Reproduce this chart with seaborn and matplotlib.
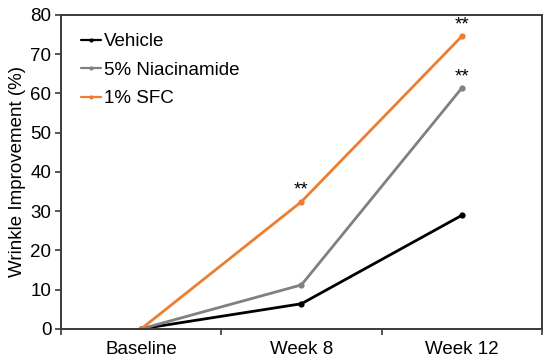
import seaborn as sns
import matplotlib.pyplot as plt
import pandas as pd

# data
timepoints = ["Baseline", "Week 8", "Week 12"]
vehicle = [0, 6.4, 28.9]
niacinamide = [0, 11.2, 61.3]
sfc = [0, 32.4, 74.5]
groups = ["Vehicle", "5% Niacinamide", "1% SFC"]
colors = ["#000000", "#808080", "#ED7D31"]

df = pd.DataFrame({
    "time": timepoints * 3,
    "x": [0, 1, 2] * 3,
    "value": vehicle + niacinamide + sfc,
    "group": [g for g in groups for _ in timepoints],
})

sns.set_style("white")
plt.rcParams['font.family'] = ['Liberation Sans', 'DejaVu Sans']
plt.rcParams['text.color'] = 'black'
plt.rcParams['axes.labelcolor'] = 'black'
plt.rcParams['xtick.labelcolor'] = 'black'
plt.rcParams['ytick.labelcolor'] = 'black'

fig = plt.figure(figsize=(5.5, 3.63), dpi=100)
ax = fig.add_axes([0.111, 0.094, 0.874, 0.865])

sns.lineplot(data=df, x="x", y="value", hue="group", hue_order=groups,
             palette=colors, marker="o", markersize=4.5, markeredgewidth=0,
             linewidth=2, ax=ax)

# significance marks
for yvals, idx in [(sfc, 1), (sfc, 2), (niacinamide, 2)]:
    ax.text(idx, yvals[idx] + 0.8, "**", ha="center", va="bottom", fontsize=13.5)

ax.set_xlim(-0.5, 2.5)
ax.set_ylim(0, 80)
ax.set_yticks(range(0, 81, 10))
ax.set_xticks([-0.5, 0.5, 1.5, 2.5])
ax.set_xticklabels([])
ax.set_xticks([0, 1, 2], minor=True)
ax.set_xticklabels(timepoints, minor=True)
ax.tick_params(axis="x", which="minor", length=0, labelsize=13.5, pad=9)
ax.tick_params(axis="x", which="major", length=4, width=1.2, direction="out",
               bottom=True, color="#3a3a3a")
ax.tick_params(axis="y", length=4, width=1.2, direction="out", left=True,
               labelsize=13.5, color="#3a3a3a", pad=3)
ax.set_xlabel("")
ax.set_ylabel("Wrinkle Improvement (%)", fontsize=13.5, labelpad=3)

for side in ["left", "bottom", "top", "right"]:
    ax.spines[side].set_color("#3a3a3a")
    ax.spines[side].set_linewidth(1.4)

leg = ax.legend(loc="upper left", frameon=False, fontsize=13.5, handlelength=1.1,
                handletextpad=0.15, labelspacing=0.6, borderaxespad=0,
                bbox_to_anchor=(0.025, 0.965))
for line in leg.get_lines():
    line.set_linewidth(1.6)
    line.set_markersize(3)

fig.savefig("out.png", dpi=100)
